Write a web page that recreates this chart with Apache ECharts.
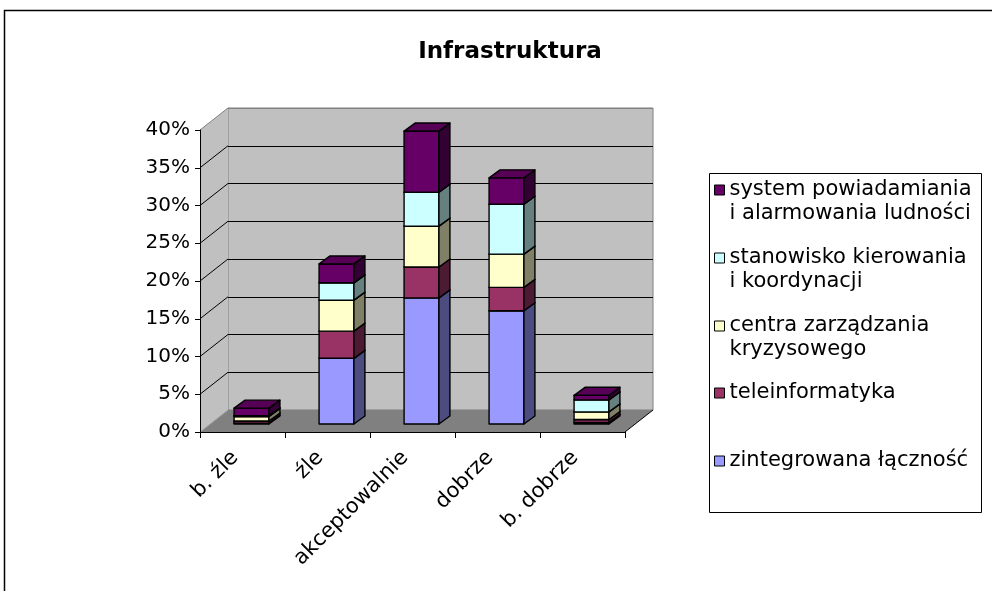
<!DOCTYPE html>
<html><head><meta charset="utf-8">
<script src="https://cdn.jsdelivr.net/npm/echarts@6/dist/echarts.min.js"></script>
<style>html,body{margin:0;padding:0;background:#fff}#c{width:992px;height:591px}</style>
</head><body><div id="c"></div>
<script>
// ---- data ----
const categories = ['b. źle', 'źle', 'akceptowalnie', 'dobrze', 'b. dobrze'];
const seriesNames = ['zintegrowana łączność', 'teleinformatyka', 'centra zarządzania kryzysowego', 'stanowisko kierowania i koordynacji', 'system powiadamiania i alarmowania ludności'];
const zintegrowanaLacznosc = [0.1, 8.7, 16.7, 15.0, 0.2];
const teleinformatyka = [0.3, 3.6, 4.1, 3.1, 0.4];
const centraZarzadzania = [0.6, 4.1, 5.4, 4.4, 1.0];
const stanowiskoKierowania = [0.1, 2.3, 4.5, 6.6, 1.6];
const systemPowiadamiania = [1.0, 2.5, 8.1, 3.5, 0.6];
const yTickValues = [0, 5, 10, 15, 20, 25, 30, 35, 40];
const legendLabels = {
  'system powiadamiania i alarmowania ludności': 'system powiadamiania\ni alarmowania ludności',
  'stanowisko kierowania i koordynacji': 'stanowisko kierowania\ni koordynacji',
  'centra zarządzania kryzysowego': 'centra zarządzania\nkryzysowego',
  'teleinformatyka': 'teleinformatyka',
  'zintegrowana łączność': 'zintegrowana łączność'
};
const titleText = 'Infrastruktura';

// ---- styles / layout ----
const FONT = 'DejaVu Sans';
const DEPTH = [28, -22];
const BAR_SHIFT = [9, -8];
const BAR_DEPTH = [11, -8];
const BAR_WIDTH_RATIO = 0.41;
const faceColors = [
  { front: '#9999FF', side: '#4C4C80', top: '#7A7ACC' },
  { front: '#993366', side: '#4D1A33', top: '#7A2952' },
  { front: '#FFFFCC', side: '#808066', top: '#CCCCA3' },
  { front: '#CCFFFF', side: '#668080', top: '#A3CCCC' },
  { front: '#660066', side: '#330033', top: '#560056' }
];
const allValues = [zintegrowanaLacznosc, teleinformatyka, centraZarzadzania, stanowiskoKierowania, systemPowiadamiania];

// stacking
const stackBase = categories.map(() => 0);
const stackedData = allValues.map(arr => arr.map((v, i) => {
  const b = stackBase[i];
  stackBase[i] += v;
  return [i, b, b + v];
}));

function makeBarRender(colors) {
  return function (params, api) {
    const i = api.value(0), b = api.value(1), t = api.value(2);
    const pb = api.coord([i, b]);
    const pt = api.coord([i, t]);
    const cw = api.size([1, 0])[0];
    const w = cw * BAR_WIDTH_RATIO;
    const x0 = pb[0] + BAR_SHIFT[0] - w / 2, x1 = x0 + w;
    const yb = pb[1] + BAR_SHIFT[1], yt = pt[1] + BAR_SHIFT[1];
    const dx = BAR_DEPTH[0], dy = BAR_DEPTH[1];
    const st = { stroke: '#000', lineWidth: 1.4, lineJoin: 'round' };
    return {
      type: 'group', children: [
        { type: 'polygon', shape: { points: [[x0, yb], [x1, yb], [x1, yt], [x0, yt]] }, style: Object.assign({ fill: colors.front }, st) },
        { type: 'polygon', shape: { points: [[x1, yb], [x1 + dx, yb + dy], [x1 + dx, yt + dy], [x1, yt]] }, style: Object.assign({ fill: colors.side }, st) },
        { type: 'polygon', shape: { points: [[x0, yt], [x1, yt], [x1 + dx, yt + dy], [x0 + dx, yt + dy]] }, style: Object.assign({ fill: colors.top }, st) }
      ]
    };
  };
}

function renderWalls(params, api) {
  const cw = api.size([1, 0])[0];
  const p0 = api.coord([0, 0]);
  const pN = api.coord([categories.length - 1, 0]);
  const L = p0[0] - cw / 2, R = pN[0] + cw / 2, yb = p0[1];
  const yt = api.coord([0, yTickValues[yTickValues.length - 1]])[1];
  const dx = DEPTH[0], dy = DEPTH[1];
  const children = [
    { type: 'polygon', shape: { points: [[L, yb], [L, yt], [L + dx, yt + dy], [L + dx, yb + dy]] }, style: { fill: '#c0c0c0' } },
    { type: 'polygon', shape: { points: [[L, yb], [R, yb], [R + dx, yb + dy], [L + dx, yb + dy]] }, style: { fill: '#808080' } },
    { type: 'line', shape: { x1: R, y1: yb, x2: R + dx, y2: yb + dy }, style: { stroke: '#000', lineWidth: 1 } },
    { type: 'line', shape: { x1: L, y1: yb, x2: L + dx, y2: yb + dy }, style: { stroke: '#a0a0a0', lineWidth: 1 } }
  ];
  yTickValues.forEach((v, k) => {
    if (k === 0) return;
    const y = api.coord([0, v])[1];
    children.push({ type: 'line', shape: { x1: L, y1: y, x2: L + dx, y2: y + dy }, style: { stroke: k === yTickValues.length - 1 ? '#808080' : '#000', lineWidth: 1 } });
  });
  return { type: 'group', children };
}

const legendCenters = [190, 258, 326, 393, 461];
const legendOrder = seriesNames.slice().reverse();
const LH = 24;
const legends = legendOrder.map((name, k) => {
  const twoLines = legendLabels[name].indexOf('\n') >= 0;
  return {
    data: [name],
    orient: 'vertical',
    left: 714,
    top: legendCenters[k] - (twoLines ? LH * 1.5 : LH / 2),
    padding: 0,
    itemWidth: 10, itemHeight: 10, itemGap: 0,
    icon: 'rect',
    itemStyle: { borderColor: '#000', borderWidth: 1 },
    selectedMode: false,
    // a blank leading line keeps the marker level with the first text line
    formatter: n => (twoLines ? ' \n' : '') + legendLabels[n],
    textStyle: { fontFamily: FONT, fontSize: 21, color: '#000', lineHeight: LH }
  };
});

const chart = echarts.init(document.getElementById('c'), null, { renderer: 'canvas' });
const splitColors = yTickValues.map((v, k) => (k === 0 || k === yTickValues.length - 1) ? '#808080' : '#000');

chart.setOption({
  animation: false,
  backgroundColor: '#fff',
  title: { text: titleText, left: 505, top: 36, textAlign: 'center', textStyle: { fontFamily: FONT, fontSize: 23, fontWeight: 'bold', color: '#000' } },
  legend: legends,
  graphic: [
    { type: 'rect', shape: { x: 4.5, y: 10.5, width: 1100, height: 700 }, style: { fill: 'none', stroke: '#000', lineWidth: 1.5 }, silent: true, z: -1 },
    { type: 'rect', shape: { x: 709.5, y: 173.5, width: 272, height: 339 }, style: { fill: 'none', stroke: '#000', lineWidth: 1 }, silent: true }
  ],
  grid: [
    { left: 200, top: 130, width: 425, height: 302 },
    { left: 200 + DEPTH[0], top: 130 + DEPTH[1], width: 425, height: 302, show: true, backgroundColor: '#c0c0c0', borderColor: '#808080', borderWidth: 1 }
  ],
  xAxis: [
    { type: 'category', gridIndex: 0, data: categories, boundaryGap: true, z: 10,
      axisLine: { lineStyle: { color: '#000', width: 1 } },
      axisTick: { show: true, length: 6, lineStyle: { color: '#000' } },
      axisLabel: { rotate: 45, interval: 0, margin: 30, align: 'right', verticalAlign: 'bottom', fontFamily: FONT, fontSize: 21, color: '#000' },
      splitLine: { show: false } },
    { type: 'category', gridIndex: 1, data: categories, boundaryGap: true, show: false }
  ],
  yAxis: [
    { type: 'value', gridIndex: 0, min: 0, max: 40, interval: 5, z: 10,
      axisLine: { show: true, lineStyle: { color: '#000', width: 1 } },
      axisTick: { show: true, length: 5, lineStyle: { color: '#000' } },
      axisLabel: { formatter: '{value}%', margin: 10, fontFamily: FONT, fontSize: 20, color: '#000' },
      splitLine: { show: false } },
    { type: 'value', gridIndex: 1, min: 0, max: 40, interval: 5,
      axisLine: { show: false }, axisTick: { show: false }, axisLabel: { show: false },
      splitLine: { show: true, lineStyle: { color: splitColors, width: 1 } } }
  ],
  series: [
    { type: 'custom', name: '__walls', xAxisIndex: 0, yAxisIndex: 0, silent: true, renderItem: renderWalls, data: [[0, 0]], encode: { x: 0, y: 1 } }
  ].concat(seriesNames.map((name, s) => ({
    type: 'custom', name: name, xAxisIndex: 0, yAxisIndex: 0,
    itemStyle: { color: faceColors[s].front },
    renderItem: makeBarRender(faceColors[s]),
    encode: { x: 0, y: [1, 2] },
    data: stackedData[s]
  })))
});
</script></body></html>
